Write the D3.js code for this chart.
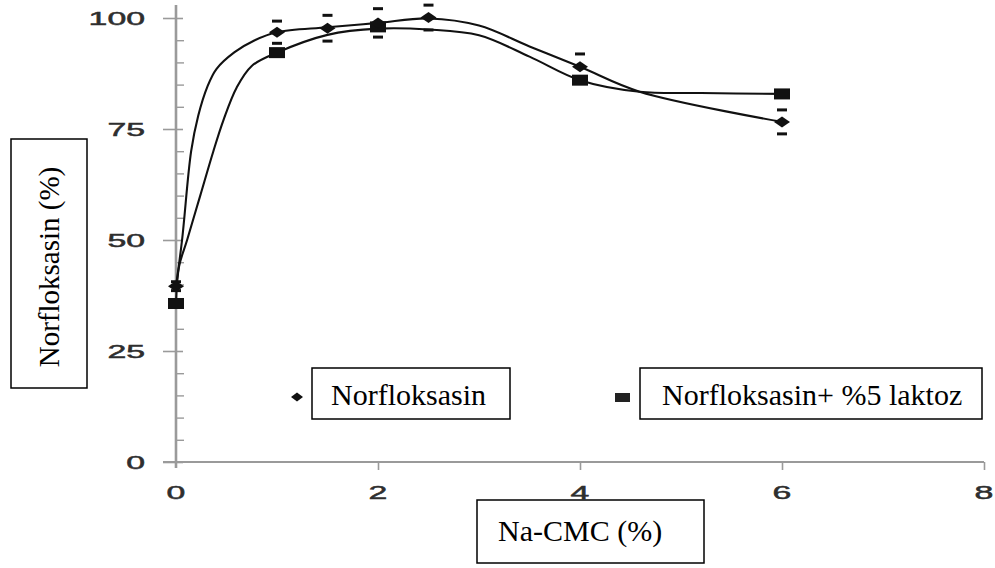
<!DOCTYPE html>
<html>
<head>
<meta charset="utf-8">
<script src="https://cdn.jsdelivr.net/npm/d3@7"></script>
<style>
  html, body { margin: 0; padding: 0; background: #fff; }
  svg { display: block; }
</style>
</head>
<body>
<svg id="chart" width="995" height="568"></svg>
<script>
// ---- data ----
const xTicks = [0, 2, 4, 6, 8];
const yTicks = [0, 25, 50, 75, 100];
const yMinorTicks = [5, 10, 15, 20, 30, 35, 40, 45, 55, 60, 65, 70, 80, 85, 90, 95];

// Norfloksasin (diamonds)
const normX = [0, 1, 1.5, 2, 2.5, 4, 6];
const normY = [39.6, 96.8, 97.7, 98.9, 100.1, 89.0, 76.6];
const normErr = [1.0, 2.5, 2.9, 3.2, 2.8, 2.9, 2.7];

// Norfloksasin + %5 laktoz (squares)
const lakX = [0, 1, 2, 4, 6];
const lakY = [35.7, 92.2, 98.0, 86.0, 82.9];

// fitted curves
const normCurveX = [0, 0.06, 0.15, 0.22, 0.31, 0.4, 0.58, 0.78, 1, 1.5, 2, 2.5, 3, 3.5, 4, 4.59, 6];
const normCurveY = [39.6, 50, 70, 78, 84.5, 88.5, 92.3, 95, 96.8, 97.9, 98.9, 99.9, 98.3, 93.6, 89.0, 83.4, 76.6];
const lakCurveX = [0, 0.03, 0.11, 0.24, 0.37, 0.47, 0.6, 0.75, 1, 1.5, 2, 2.5, 3, 3.5, 4, 4.59, 5.2, 6];
const lakCurveY = [35.7, 44, 50, 60, 70, 77, 84.3, 89.2, 92.2, 96.2, 97.6, 97.4, 96.1, 91.3, 86.0, 83.4, 83.1, 82.9];

const legendLabels = ["Norfloksasin", "Norfloksasin+ %5 laktoz"];
const xTitle = "Na-CMC (%)";
const yTitle = "Norfloksasin (%)";

// ---- drawing ----
const svg = d3.select("#chart");
const x = d3.scaleLinear().domain([0, 8]).range([176, 984]);
const y = d3.scaleLinear().domain([0, 100]).range([462, 18]);

const axisColor = "#9a9a9a";

// y axis (major ticks cross the axis)
const yAxisG = svg.append("g").attr("transform", `translate(${x(0)},0)`)
  .call(d3.axisLeft(y).tickValues(yTicks).tickSize(13).tickFormat(""));
yAxisG.select(".domain").remove();
yAxisG.selectAll(".tick line").attr("x2", 7).attr("x1", -13).attr("stroke", axisColor).attr("stroke-width", 1.6);
const yMinorG = svg.append("g").attr("transform", `translate(${x(0)},0)`)
  .call(d3.axisRight(y).tickValues(yMinorTicks).tickSize(8).tickFormat(""));
yMinorG.select(".domain").remove();
yMinorG.selectAll(".tick line").attr("stroke", axisColor).attr("stroke-width", 1.4);
svg.append("line").attr("x1", x(0)).attr("x2", x(0)).attr("y1", y(0) + 6).attr("y2", 5)
  .attr("stroke", axisColor).attr("stroke-width", 2.6);

// x axis
const xAxisG = svg.append("g").attr("transform", `translate(0,${y(0)})`)
  .call(d3.axisBottom(x).tickValues(xTicks.filter(d => d > 0)).tickSize(8).tickFormat(""));
xAxisG.select(".domain").remove();
xAxisG.selectAll(".tick line").attr("stroke", axisColor).attr("stroke-width", 1.6);
svg.append("line").attr("x1", x(0) - 13).attr("x2", x(8)).attr("y1", y(0)).attr("y2", y(0))
  .attr("stroke", axisColor).attr("stroke-width", 2.2);

// tick labels (wide sans)
const tickStyle = sel => sel
  .attr("font-family", "Liberation Sans, Arial, sans-serif")
  .attr("font-size", 19).attr("fill", "#2e2e2e")
  .attr("stroke", "#2e2e2e").attr("stroke-width", 0.5);
svg.append("g").selectAll("text").data(yTicks).join("text")
  .attr("transform", d => `translate(145,${y(d) + 7}) scale(1.78,1)`)
  .attr("text-anchor", "end").call(tickStyle)
  .text(d => d);
svg.append("g").selectAll("text").data(xTicks).join("text")
  .attr("transform", d => `translate(${x(d)},499) scale(1.78,1)`)
  .attr("text-anchor", "middle").call(tickStyle)
  .text(d => d);

// curves
const line = d3.line().x(d => x(d[0])).y(d => y(d[1])).curve(d3.curveCatmullRom.alpha(0.5));
svg.append("path").datum(normCurveX.map((d, i) => [d, normCurveY[i]]))
  .attr("d", line).attr("fill", "none").attr("stroke", "#111").attr("stroke-width", 2.1);
svg.append("path").datum(lakCurveX.map((d, i) => [d, lakCurveY[i]]))
  .attr("d", line).attr("fill", "none").attr("stroke", "#111").attr("stroke-width", 2.1);

// error bar caps for diamonds
const normData = normX.map((d, i) => ({ x: d, y: normY[i], e: normErr[i] }));
const caps = svg.append("g");
normData.forEach(d => {
  [d.y + d.e, d.y - d.e].forEach(v => {
    caps.append("line").attr("x1", x(d.x) - 5).attr("x2", x(d.x) + 5)
      .attr("y1", y(v)).attr("y2", y(v)).attr("stroke", "#111").attr("stroke-width", 3);
  });
});

// squares
const lakData = lakX.map((d, i) => ({ x: d, y: lakY[i] }));
svg.append("g").selectAll("rect").data(lakData).join("rect")
  .attr("x", d => x(d.x) - 8).attr("y", d => y(d.y) - 5.5)
  .attr("width", 16).attr("height", 11).attr("fill", "#111");

// diamonds
const diamond = (cx, cy, hw, hh) => `M${cx - hw},${cy}L${cx},${cy - hh}L${cx + hw},${cy}L${cx},${cy + hh}Z`;
svg.append("g").selectAll("path").data(normData).join("path")
  .attr("d", d => diamond(x(d.x), y(d.y), 8, 5.5)).attr("fill", "#111");

// legend
svg.append("path").attr("d", diamond(297, 397, 6, 4.5)).attr("fill", "#111");
svg.append("rect").attr("x", 615).attr("y", 393).attr("width", 15).attr("height", 9).attr("fill", "#222");
const legBoxes = [[312, 368, 198, 51, 331], [640, 368, 342, 51, 662]];
legBoxes.forEach((b, i) => {
  svg.append("rect").attr("x", b[0]).attr("y", b[1]).attr("width", b[2]).attr("height", b[3])
    .attr("fill", "#fff").attr("stroke", "#000").attr("stroke-width", 1.5);
  svg.append("text").attr("x", b[4]).attr("y", 405)
    .attr("font-family", "Liberation Serif, Times New Roman, serif").attr("font-size", 30)
    .attr("fill", "#000").text(legendLabels[i]);
});

// axis titles
svg.append("rect").attr("x", 477).attr("y", 500).attr("width", 227).attr("height", 63)
  .attr("fill", "#fff").attr("stroke", "#000").attr("stroke-width", 1.5);
svg.append("text").attr("x", 498).attr("y", 541)
  .attr("font-family", "Liberation Serif, Times New Roman, serif").attr("font-size", 30)
  .attr("fill", "#000").text(xTitle);

svg.append("rect").attr("x", 11).attr("y", 139).attr("width", 76).attr("height", 249)
  .attr("fill", "#fff").attr("stroke", "#000").attr("stroke-width", 1.5);
svg.append("text").attr("transform", "translate(59,267) rotate(-90)")
  .attr("text-anchor", "middle")
  .attr("font-family", "Liberation Serif, Times New Roman, serif").attr("font-size", 29)
  .attr("fill", "#000").text(yTitle);
</script>
</body>
</html>
